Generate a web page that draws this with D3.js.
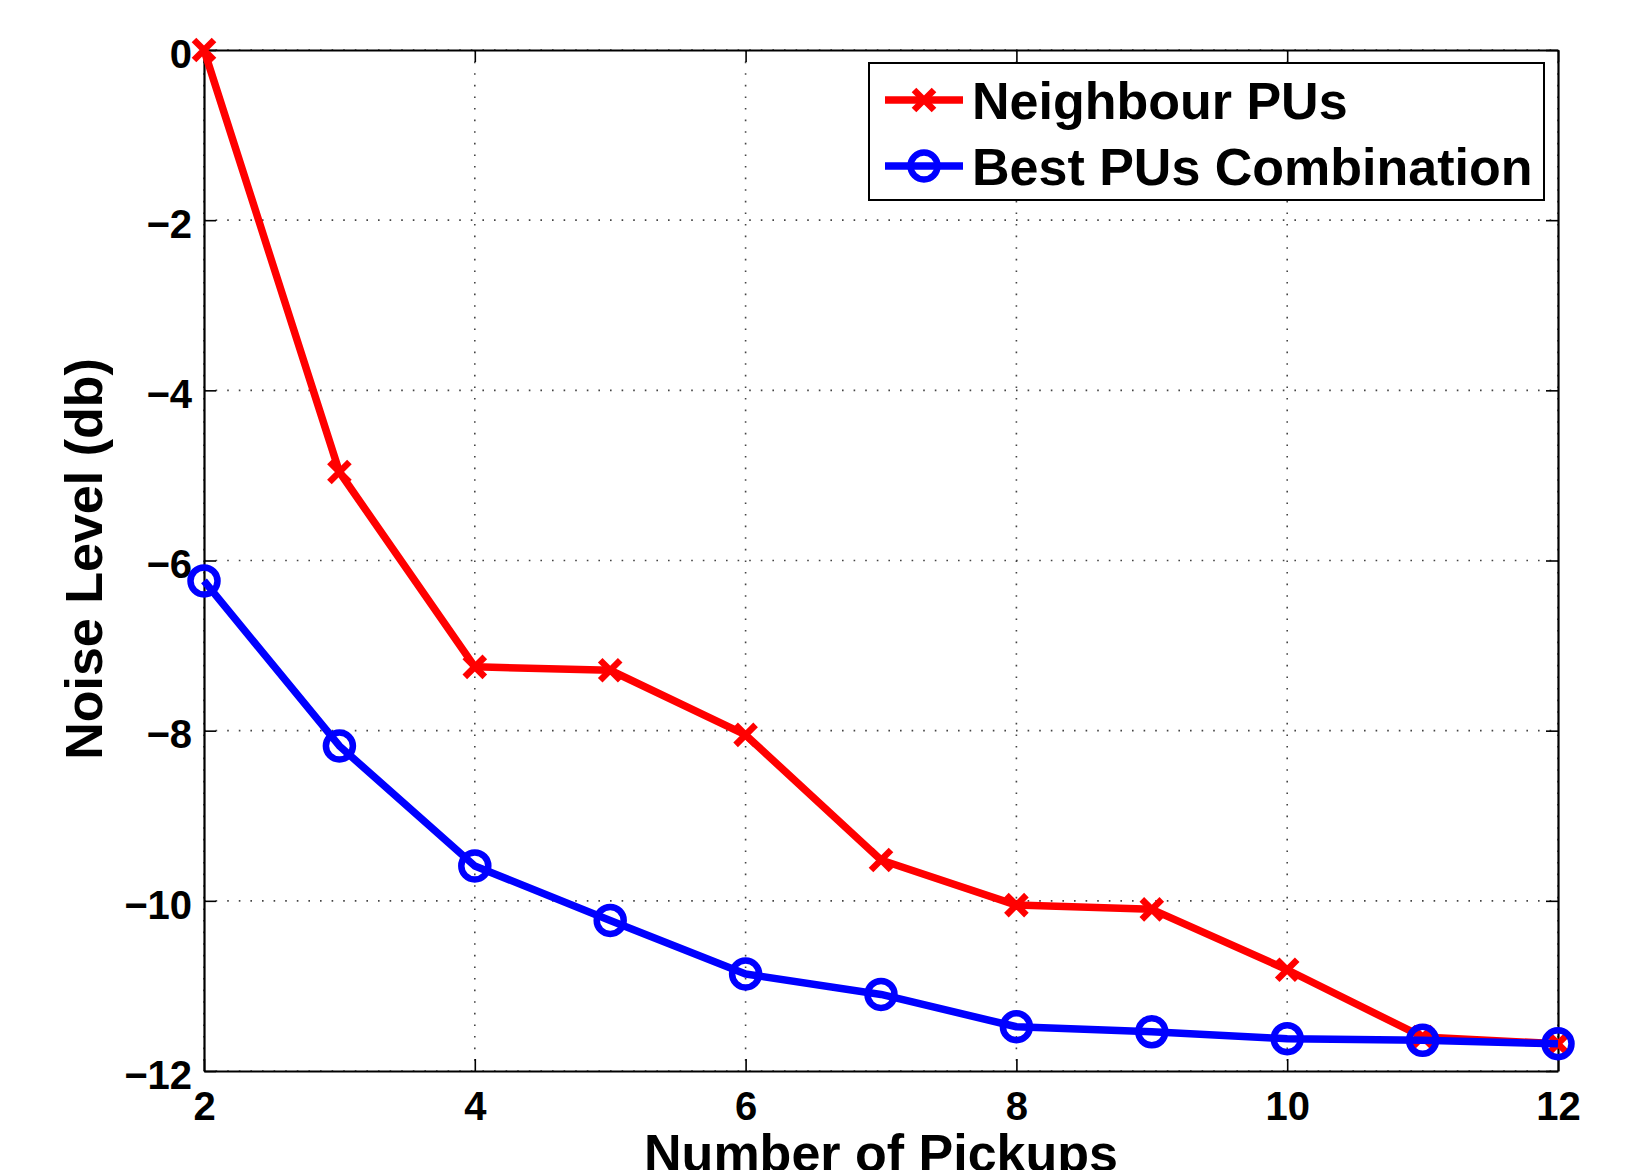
<!DOCTYPE html>
<html>
<head>
<meta charset="utf-8">
<script src="https://d3js.org/d3.v7.min.js"></script>
<style>
  body { margin: 0; background: #fff; }
  text { font-family: "Liberation Sans", Arial, sans-serif; font-weight: bold; }
</style>
</head>
<body>
<div id="chart"></div>
<script>
// data
var pickups = [2, 3, 4, 5, 6, 7, 8, 9, 10, 11, 12];
var neighbourPUs = [0, -4.96, -7.25, -7.29, -8.05, -9.52, -10.05, -10.10, -10.81, -11.60, -11.68];
var bestPUs = [-6.24, -8.18, -9.59, -10.23, -10.86, -11.10, -11.48, -11.54, -11.62, -11.64, -11.68];
var xTicks = [2, 4, 6, 8, 10, 12];
var yTicks = [0, -2, -4, -6, -8, -10, -12];
var seriesNames = ["Neighbour PUs", "Best PUs Combination"];

var svgWidth = 1627;
var svgHeight = 1170;
var margin = {top: 50, right: 69, bottom: 99, left: 204};
var width = svgWidth - margin.left - margin.right;
var height = svgHeight - margin.top - margin.bottom;

var svg = d3.select("#chart")
            .append("svg")
            .attr("width", svgWidth)
            .attr("height", svgHeight);

var chartGroup = svg.append("g")
                    .attr("transform", `translate(${margin.left}, ${margin.top})`);

var xScale = d3.scaleLinear().domain([2, 12]).range([0, width]);
var yScale = d3.scaleLinear().domain([-12, 0]).range([height, 0]);

// dotted grid
var grid = chartGroup.append("g")
                     .attr("stroke", "#444")
                     .attr("stroke-width", 1.6)
                     .attr("stroke-dasharray", "1.6,10");
grid.selectAll("line.gx")
    .data(xTicks)
    .enter()
    .append("line")
    .attr("x1", d => xScale(d)).attr("x2", d => xScale(d))
    .attr("y1", 0).attr("y2", height);
grid.selectAll("line.gy")
    .data(yTicks)
    .enter()
    .append("line")
    .attr("y1", d => yScale(d)).attr("y2", d => yScale(d))
    .attr("x1", 0).attr("x2", width);

// axes, ticks pointing inward like matlab
var bottomAxis = d3.axisBottom(xScale).tickValues(xTicks).tickSizeInner(-12).tickSizeOuter(0).tickPadding(21);
var leftAxis = d3.axisLeft(yScale).tickValues(yTicks).tickSizeInner(-12).tickSizeOuter(0).tickPadding(12);
var topAxis = d3.axisTop(xScale).tickValues(xTicks).tickSizeInner(-12).tickSizeOuter(0).tickFormat("");
var rightAxis = d3.axisRight(yScale).tickValues(yTicks).tickSizeInner(-12).tickSizeOuter(0).tickFormat("");

var gx = chartGroup.append("g").attr("transform", `translate(0, ${height})`).call(bottomAxis);
var gy = chartGroup.append("g").call(leftAxis);
var gt = chartGroup.append("g").call(topAxis);
var gr = chartGroup.append("g").attr("transform", `translate(${width}, 0)`).call(rightAxis);

[gx, gy, gt, gr].forEach(function(g) {
    g.select(".domain").attr("stroke", "#000").attr("stroke-width", 2.2);
    g.selectAll(".tick line").attr("stroke", "#000").attr("stroke-width", 1.6);
});
gx.selectAll("text").style("font-size", "40px").attr("fill", "#000");
gy.selectAll("text").style("font-size", "40px").attr("fill", "#000").attr("dy", "0.43em");

// lines
var lineNeighbour = d3.line()
    .x((d, i) => xScale(pickups[i]))
    .y(d => yScale(d));

chartGroup.append("path")
    .datum(neighbourPUs)
    .attr("fill", "none")
    .attr("stroke", "#ff0000")
    .attr("stroke-width", 7.5)
    .attr("stroke-linejoin", "round")
    .attr("d", lineNeighbour);

chartGroup.selectAll("path.xmark")
    .data(neighbourPUs)
    .enter()
    .append("path")
    .attr("class", "xmark")
    .attr("transform", (d, i) => `translate(${xScale(pickups[i])}, ${yScale(d)})`)
    .attr("d", "M-10,-10L10,10M-10,10L10,-10")
    .attr("stroke", "#ff0000")
    .attr("stroke-width", 6.5)
    .attr("fill", "none");

chartGroup.append("path")
    .datum(bestPUs)
    .attr("fill", "none")
    .attr("stroke", "#0000ff")
    .attr("stroke-width", 7.5)
    .attr("stroke-linejoin", "round")
    .attr("d", lineNeighbour);

chartGroup.selectAll("circle")
    .data(bestPUs)
    .enter()
    .append("circle")
    .attr("cx", (d, i) => xScale(pickups[i]))
    .attr("cy", d => yScale(d))
    .attr("r", 13.5)
    .attr("fill", "none")
    .attr("stroke", "#0000ff")
    .attr("stroke-width", 6.5);

// axis titles
svg.append("text")
   .attr("x", margin.left + width / 2)
   .attr("y", 1171)
   .attr("text-anchor", "middle")
   .style("font-size", "52px")
   .text("Number of Pickups");

svg.append("text")
   .attr("transform", "translate(102, 559) rotate(-90)")
   .attr("text-anchor", "middle")
   .style("font-size", "52px")
   .text("Noise Level (db)");

// legend
var legend = svg.append("g");
legend.append("rect")
      .attr("x", 869).attr("y", 63)
      .attr("width", 675).attr("height", 137)
      .attr("fill", "#fff")
      .attr("stroke", "#000")
      .attr("stroke-width", 2);

var legendColors = ["#ff0000", "#0000ff"];
var legendRows = [100, 166];
seriesNames.forEach(function(name, i) {
    legend.append("line")
          .attr("x1", 885).attr("x2", 963)
          .attr("y1", legendRows[i]).attr("y2", legendRows[i])
          .attr("stroke", legendColors[i])
          .attr("stroke-width", 7.5);
    if (i === 0) {
        legend.append("path")
              .attr("transform", `translate(924, ${legendRows[i]})`)
              .attr("d", "M-10,-10L10,10M-10,10L10,-10")
              .attr("stroke", legendColors[i])
              .attr("stroke-width", 6.5);
    } else {
        legend.append("circle")
              .attr("cx", 924).attr("cy", legendRows[i])
              .attr("r", 13.5)
              .attr("fill", "none")
              .attr("stroke", legendColors[i])
              .attr("stroke-width", 6.5);
    }
    legend.append("text")
          .attr("x", 972)
          .attr("y", legendRows[i] + 19)
          .style("font-size", "52px")
          .text(name);
});
</script>
</body>
</html>
